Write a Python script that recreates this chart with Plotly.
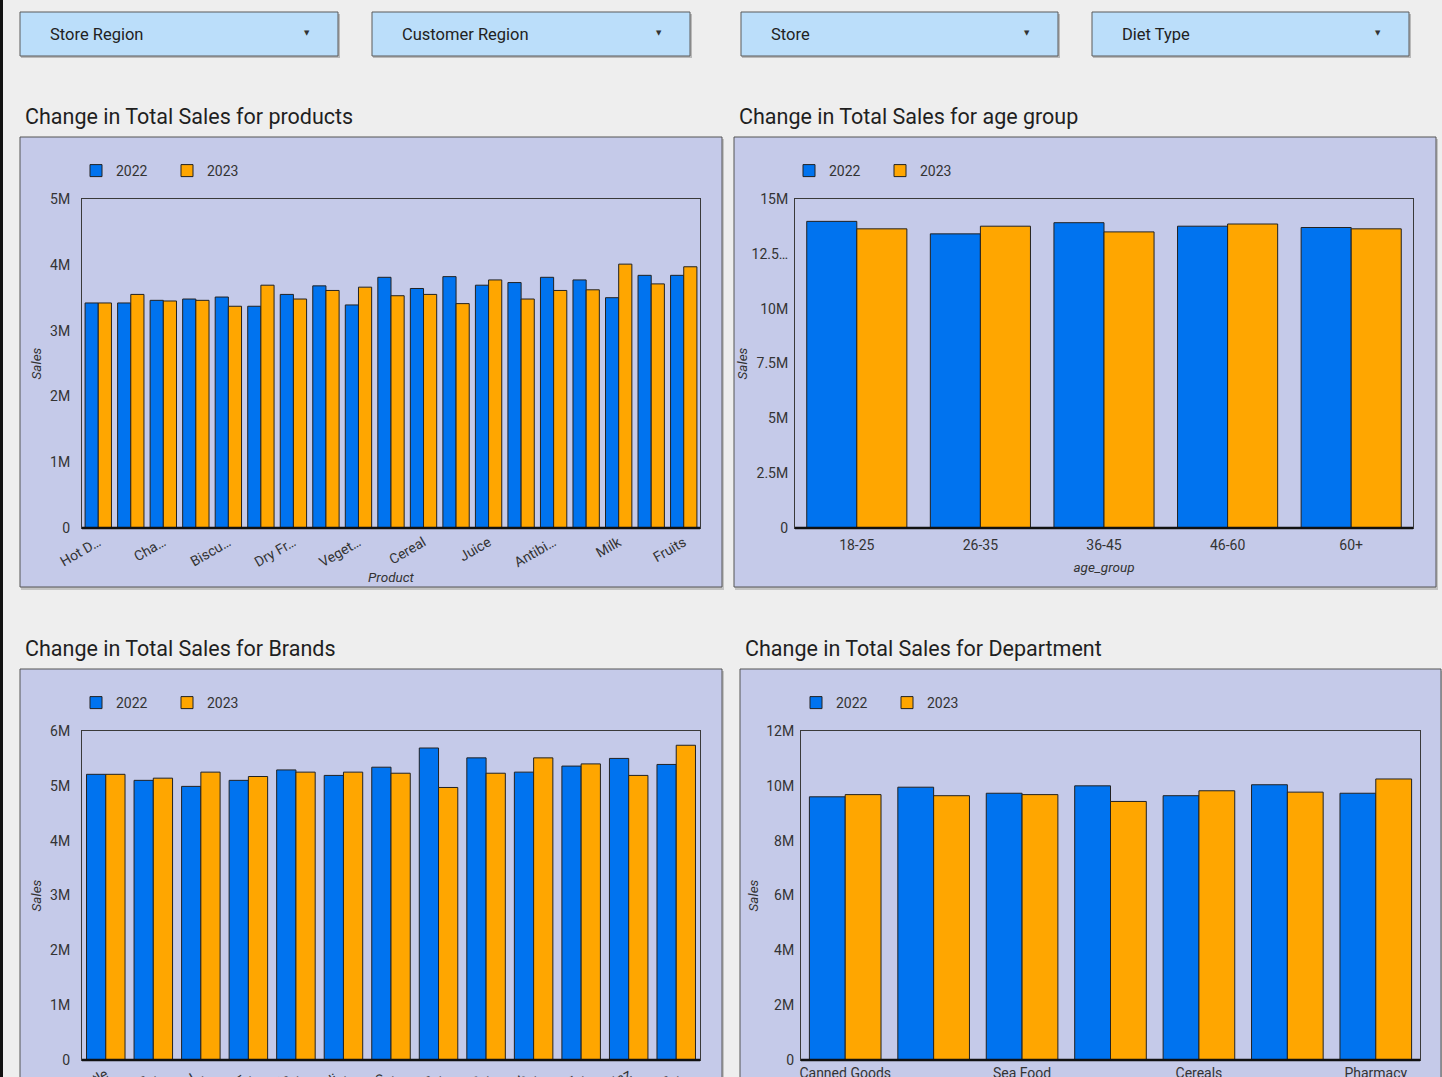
import plotly.graph_objects as go

W, H = 1442, 1077
BLUE = "#0073ef"
ORANGE = "#ffa600"
EDGE = "#222222"
PANEL = "#c5cae9"
DROP = "#bbdefa"
PAGE = "#eeeeee"
FONT = "Roboto"

# ---------------- data ----------------
filters = ["Store Region", "Customer Region", "Store", "Diet Type"]
years = ["2022", "2023"]

products = ["Hot Dogs", "Bread", "Chapati", "Eggs", "Biscuits", "Butter", "Dry Fruits",
            "Rice", "Vegetables", "Cheese", "Cereal", "Pasta", "Juice", "Snacks",
            "Antibiotics", "Soda", "Milk", "Tea", "Fruits"]
product_tick_cats = products[::2]
product_tick_text = ["Hot D…", "Cha…", "Biscu…", "Dry Fr…", "Veget…", "Cereal",
                     "Juice", "Antibi…", "Milk", "Fruits"]
product_2022 = [3.42, 3.42, 3.46, 3.48, 3.51, 3.37, 3.55, 3.68, 3.39, 3.81,
                3.64, 3.82, 3.69, 3.73, 3.81, 3.77, 3.50, 3.84, 3.84]
product_2023 = [3.42, 3.55, 3.45, 3.46, 3.37, 3.69, 3.48, 3.61, 3.66, 3.53,
                3.55, 3.41, 3.77, 3.48, 3.61, 3.62, 4.01, 3.71, 3.97]

age_groups = ["18-25", "26-35", "36-45", "46-60", "60+"]
age_2022 = [13.98, 13.41, 13.92, 13.76, 13.70]
age_2023 = [13.64, 13.76, 13.50, 13.86, 13.64]
age_tick_vals = [0, 2.5, 5, 7.5, 10, 12.5, 15]
age_tick_text = ["0", "2.5M", "5M", "7.5M", "10M", "12.5…", "15M"]

brands = ["Nestle", "Britannia", "Amul", "Dabur", "Parle", "Haldiram", "ITC",
          "Tata", "Patanjali", "Cadbury", "Kellogg's", "Heinz", "Kissan"]
brand_tick_text = ["Nestle", "Brita…", "Amul…", "Dabur…", "Parle…", "Haldi…", "ITC…",
                   "Tata…", "Patan…", "Cadb…", "Kellog…", "Heinz", "Kissa…"]
brand_2022 = [5.21, 5.10, 4.99, 5.10, 5.29, 5.19, 5.34, 5.69, 5.51, 5.25, 5.36, 5.50, 5.39]
brand_2023 = [5.21, 5.14, 5.25, 5.17, 5.25, 5.25, 5.23, 4.97, 5.23, 5.51, 5.40, 5.19, 5.74]

departments = ["Canned Goods", "Dairy", "Sea Food", "Bakery", "Cereals", "Beverages", "Pharmacy"]
dept_tick_cats = departments[::2]
dept_2022 = [9.60, 9.95, 9.73, 10.00, 9.64, 10.04, 9.73]
dept_2023 = [9.68, 9.64, 9.68, 9.43, 9.82, 9.77, 10.25]

M = 1e6


def px(x):
    return x / W


def py(y):
    return 1 - y / H


fig = go.Figure()

charts = [
    # suffix, cats, v22, v23, legend, pixel plot area, legend item start, label gap, title gap
    ("", products, product_2022, product_2023, "legend", (82, 700, 199, 528), (76, 171), 8, 5),
    ("2", age_groups, age_2022, age_2023, "legend2", (795, 1413, 199, 528), (789, 171), 3, 0),
    ("3", brands, brand_2022, brand_2023, "legend3", (82, 700, 731, 1060), (76, 703), 8, 5),
    ("4", departments, dept_2022, dept_2023, "legend4", (801, 1420, 731, 1060), (796, 703), 3, 4),
]

for suf, cats, v22, v23, leg, *_ in charts:
    for name, vals, col in ((years[0], v22, BLUE), (years[1], v23, ORANGE)):
        fig.add_trace(go.Bar(
            x=cats, y=[v * M for v in vals], name=name,
            marker=dict(color=col, line=dict(color=EDGE, width=1)),
            xaxis="x" + suf, yaxis="y" + suf, legend=leg,
            hovertemplate="%{x}<br>%{y:.3s}<extra>" + name + "</extra>",
        ))

tickfont = dict(family=FONT, size=14, color="#333333")
titlefont = dict(family=FONT, size=13.5, color="#333333", style="italic")

layout = dict(
    width=W, height=H, margin=dict(l=0, r=0, t=0, b=0),
    paper_bgcolor=PAGE, plot_bgcolor=PANEL,
    barmode="group", bargap=0.19, bargroupgap=0.0,
    font=dict(family=FONT, color="#333333"),
)

for suf, cats, v22, v23, leg, (x0, x1, yt, yb), (lx, ly), lgap, tgap in charts:
    layout["xaxis" + suf] = dict(
        domain=[px(x0), px(x1)], anchor="y" + suf, type="category",
        showline=True, linecolor="#3a3a3a", linewidth=1, mirror=True,
        ticks="", showgrid=False, tickfont=tickfont, automargin=False,
        fixedrange=True,
    )
    layout["yaxis" + suf] = dict(
        domain=[py(yb), py(yt)], anchor="x" + suf,
        showline=True, linecolor="#3a3a3a", linewidth=1, mirror=True,
        ticks="", showgrid=False, zeroline=False, tickfont=tickfont,
        automargin=False, fixedrange=True, ticklabelstandoff=lgap,
        title=dict(text="Sales", font=titlefont, standoff=tgap),
    )
    layout[leg] = dict(
        orientation="h", x=px(lx), xanchor="left", y=py(ly), yanchor="middle",
        font=dict(family=FONT, size=14, color="#333333"),
        bgcolor="rgba(0,0,0,0)", entrywidth=46, entrywidthmode="pixels",
        itemclick=False, itemdoubleclick=False,
    )

# axis specifics
layout["xaxis"].update(tickvals=product_tick_cats, ticktext=product_tick_text, tickangle=-30,
                       title=dict(text="Product", font=titlefont, standoff=3))
layout["yaxis"].update(range=[0, 5 * M], dtick=M, tickformat="~s")
layout["xaxis2"].update(tickangle=0, ticklabelstandoff=4,
                        title=dict(text="age_group", font=titlefont, standoff=10))
layout["yaxis2"].update(range=[0, 15 * M], tickvals=[v * M for v in age_tick_vals],
                        ticktext=age_tick_text)
layout["xaxis3"].update(tickvals=brands, ticktext=brand_tick_text, tickangle=-30)
layout["yaxis3"].update(range=[0, 6 * M], dtick=M, tickformat="~s")
layout["xaxis4"].update(tickvals=dept_tick_cats, tickangle=0)
layout["yaxis4"].update(range=[0, 12 * M], dtick=2 * M, tickformat="~s")

fig.update_layout(**layout)

shapes = []
annotations = []


def rect(x0, y0, x1, y1, fill, line=None, lw=1, layer="below"):
    shapes.append(dict(type="rect", xref="paper", yref="paper",
                       x0=px(x0), x1=px(x1), y0=py(y1), y1=py(y0),
                       fillcolor=fill, layer=layer,
                       line=dict(color=line or "rgba(0,0,0,0)", width=lw if line else 0)))


# left dark strip
rect(0, 0, 3, H, "#111111")

# filter dropdowns
drop_boxes = [(20, 338), (372, 690), (741, 1058), (1092, 1409)]
for (bx0, bx1), label in zip(drop_boxes, filters):
    rect(bx0 + 1, 14, bx1 + 2, 58, "rgba(0,0,0,0.22)")
    rect(bx0, 12, bx1, 56, DROP, "#5a5a5a", 1)
    annotations.append(dict(xref="paper", yref="paper", x=px(bx0 + 28), y=py(34),
                            xanchor="left", yanchor="middle", showarrow=False, text=label,
                            font=dict(family=FONT, size=16.5, color="#222222")))
    annotations.append(dict(xref="paper", yref="paper", x=px(bx1 - 31), y=py(33),
                            xanchor="center", yanchor="middle", showarrow=False, text="▼",
                            font=dict(family="DejaVu Sans", size=7, color="#333333")))

# panels
panels = [(20, 137, 722, 587), (734, 137, 1436, 587), (20, 669, 722, 1095), (740, 669, 1441, 1095)]
for (x0, y0, x1, y1) in panels:
    rect(x0 + 1, y0 + 2, x1 + 2, y1 + 3, "rgba(0,0,0,0.18)")
    rect(x0, y0, x1, y1, PANEL, "#555555", 1)

# chart titles
titles = [("Change in Total Sales for products", 23, 116),
          ("Change in Total Sales for age group", 737, 116),
          ("Change in Total Sales for Brands", 23, 648),
          ("Change in Total Sales for Department", 743, 648)]
for text, tx, ty in titles:
    annotations.append(dict(xref="paper", yref="paper", x=px(tx), y=py(ty),
                            xanchor="left", yanchor="middle", showarrow=False, text=text,
                            font=dict(family=FONT, size=21.5, color="#1f1f1f")))

# thicker baseline on each plot
for suf in ["", "2", "3", "4"]:
    shapes.append(dict(type="line", xref=("x" + suf + " domain"), yref=("y" + suf + " domain"),
                       x0=0, x1=1, y0=0, y1=0, line=dict(color="#111111", width=2.5),
                       layer="above"))

fig.update_layout(shapes=shapes, annotations=annotations)

fig.write_html("out.html")
